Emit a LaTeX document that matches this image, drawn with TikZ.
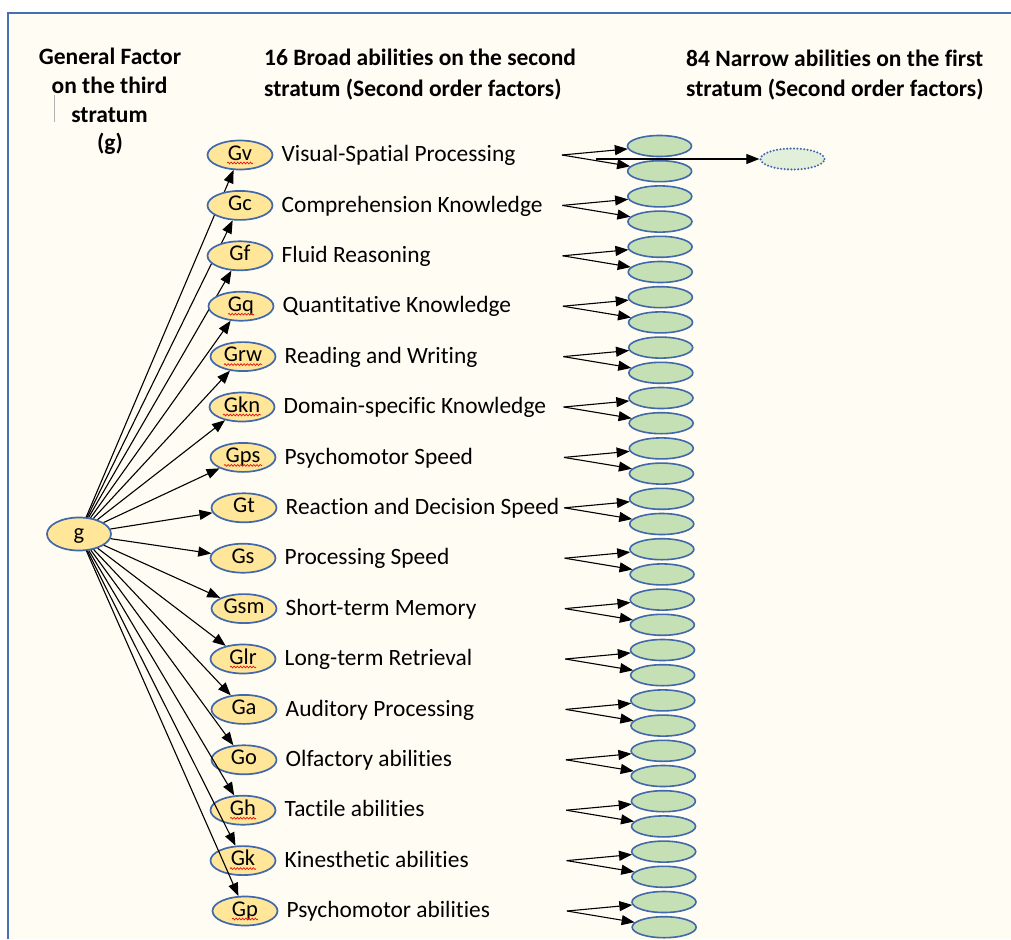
\documentclass[tikz,border=0pt]{standalone}
\usepackage{fontspec}
\setmainfont{Carlito}[Ligatures={NoCommon,NoRequired,NoContextual}]
\usetikzlibrary{shapes.geometric,arrows.meta,decorations.pathmorphing}

\definecolor{frameblue}{RGB}{74,111,176}
\definecolor{edgeblue}{RGB}{64,104,170}
\definecolor{paper}{RGB}{255,252,244}
\definecolor{gold}{RGB}{255,230,153}
\definecolor{leaf}{RGB}{197,224,180}
\definecolor{paleleaf}{RGB}{226,239,218}
\definecolor{spellred}{RGB}{230,20,20}

\begin{document}
\begin{tikzpicture}[x=1pt,y=-1pt,
  factor/.style={ellipse,draw=edgeblue,line width=1.7pt,fill=gold,
    minimum width=65pt,minimum height=29pt,inner sep=0pt,
    font=\fontsize{22.5}{22.5}\selectfont,text height=14pt,text depth=4pt},
  narrow/.style={ellipse,draw=edgeblue,line width=1.6pt,fill=leaf,
    minimum width=64pt,minimum height=21pt,inner sep=0pt},
  pending/.style={ellipse,draw=edgeblue,line width=2.3pt,fill=paleleaf,
    dash pattern=on 0pt off 3.4pt,line cap=round,
    minimum width=64pt,minimum height=21pt,inner sep=0pt},
  arr/.style={-{Triangle[length=13pt,width=10pt]},line width=1.1pt,black},
  ability/.style={anchor=base west,inner sep=0pt,font=\fontsize{23.4}{23.4}\selectfont},
  hdr/.style={anchor=base,inner sep=0pt,font=\bfseries\fontsize{23.5}{28}\selectfont},
  hdrleft/.style={hdr,anchor=base west},
  squiggle/.style={draw=spellred,line width=0.7pt,
    decorate,decoration={snake,amplitude=0.9pt,segment length=3.2pt}}
]
\useasboundingbox (0,0) rectangle (1011,939);
\fill[white] (0,0) rectangle (1011,939);
\fill[paper] (8,13) rectangle (1011,939);
\draw[frameblue,line width=1.6pt] (8,939) -- (8,13) -- (1011,13);

% column headings
\node[hdr] (h1) at (110,65) {General Factor};
\node[hdr] (h2) at (109.5,93.5) {on the third};
\node[hdr] (h3) at (109.5,122) {stratum};
\node[hdr] (h4) at (110,150.5) {(g)};
\draw[gray!60,line width=0.7pt] (54,95) -- (54,122);
\node[hdrleft] (m1) at (264,65.5) {16 Broad abilities on the second};
\node[hdrleft] (m2) at (264,96.5) {stratum (Second order factors)};
\node[hdrleft] (r1) at (686,66.5) {84 Narrow abilities on the first};
\node[hdrleft] (r2) at (686,96.5) {stratum (Second order factors)};

% general factor
\node[factor,minimum width=64pt,minimum height=33pt] (g) at (79,534) {g};

% broad abilities (second stratum)
\foreach \nm/\lab/\x/\w [count=\i from 0] in {
  Gv/Visual-Spatial Processing/240/13,
  Gc/Comprehension Knowledge/240/0,
  Gf/Fluid Reasoning/240/0,
  Gq/Quantitative Knowledge/241/13,
  Grw/Reading and Writing/243/19,
  Gkn/Domain-specific Knowledge/242/19,
  Gps/Psychomotor Speed/243/19,
  Gt/Reaction and Decision Speed/244/0,
  Gs/Processing Speed/243/0,
  Gsm/Short-term Memory/244/0,
  Glr/Long-term Retrieval/243/13,
  Ga/Auditory Processing/244/0,
  Go/Olfactory abilities/244/0,
  Gh/Tactile abilities/243/13,
  Gk/Kinesthetic abilities/243/13,
  Gp/Psychomotor abilities/245/13}{
  \pgfmathsetmacro\y{155+50.4*\i}
  \node[factor] (\nm) at (\x,\y) {\nm};
  \node[ability] (L\nm) at (\x+41.5,\y+6.7) {\lab};
  \ifnum\w>0
    \draw[squiggle] (\x-\w,\y+8) -- (\x+\w,\y+8);
  \fi
  \draw[arr] (g) -- (\nm);
}

% narrow abilities (first stratum)
\foreach \j in {0,...,31}{
  \node[narrow] (n\j) at ({659.5+0.15*\j},{146+25.2*\j}) {};
}
\foreach \i in {0,...,15}{
  \coordinate (s\i) at ({562+0.33*\i},{155+50.4*\i});
  \pgfmathtruncatemacro\a{2*\i}
  \pgfmathtruncatemacro\b{2*\i+1}
  \draw[arr] (s\i) -- (n\a);
  \draw[arr] (s\i) -- (n\b);
}

% further narrow ability
\node[pending] (x) at (792.5,159) {};
\coordinate (t0) at (596,159);
\draw[arr] (t0) -- (x);
\end{tikzpicture}
\end{document}
